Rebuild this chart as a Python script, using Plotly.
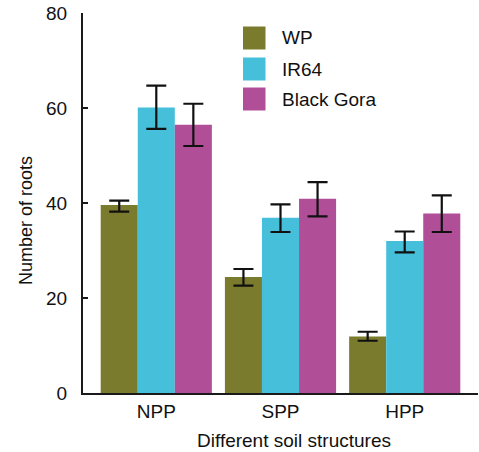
import plotly.graph_objects as go

categories = ["NPP", "SPP", "HPP"]
series_names = ["WP", "IR64", "Black Gora"]
colors = ["#7b7b2e", "#45bfda", "#b04e97"]

wp_vals = [39.6, 24.4, 11.9]
wp_err_plus = [0.9, 1.7, 1.0]
wp_err_minus = [1.4, 1.8, 0.9]

ir64_vals = [60.1, 36.9, 32.0]
ir64_err_plus = [4.6, 2.8, 2.0]
ir64_err_minus = [4.5, 3.0, 2.4]

bg_vals = [56.5, 40.9, 37.8]
bg_err_plus = [4.4, 3.5, 3.8]
bg_err_minus = [4.5, 3.7, 3.9]

y_ticks = [0, 20, 40, 60, 80]

values = [wp_vals, ir64_vals, bg_vals]
plus = [wp_err_plus, ir64_err_plus, bg_err_plus]
minus = [wp_err_minus, ir64_err_minus, bg_err_minus]

FONT = "Liberation Sans, Arial, sans-serif"

fig = go.Figure()
for name, col, v, p, m in zip(series_names, colors, values, plus, minus):
    fig.add_trace(go.Bar(
        x=categories, y=v, name=name, marker_color=col, marker_line_width=0,
        showlegend=False,
        error_y=dict(type="data", symmetric=False, array=p, arrayminus=m,
                     color="#111111", thickness=2.2, width=10),
    ))

# custom legend with large squares
L, R, T, B = 83, 478, 13, 393
W, H = R - L, B - T
def px(x):
    return (x - L) / W
def py(y):
    return (B - y) / H

row_centers = [38, 69, 99]
for name, col, yc in zip(series_names, colors, row_centers):
    fig.add_shape(type="rect", xref="paper", yref="paper",
                  x0=px(243), x1=px(265.5), y0=py(yc + 11.5), y1=py(yc - 11.5),
                  fillcolor=col, line=dict(width=0))
    fig.add_annotation(xref="paper", yref="paper", x=px(280), y=py(yc),
                       text=name, showarrow=False, xanchor="left", yanchor="middle",
                       font=dict(family=FONT, size=19, color="#111111"))

fig.add_annotation(xref="paper", yref="paper", x=px(26), y=py(221),
                   text="Number of roots", textangle=-90, showarrow=False,
                   xanchor="center", yanchor="middle",
                   font=dict(family=FONT, size=18, color="#111111"))
fig.add_annotation(xref="paper", yref="paper", x=px(294), y=py(440),
                   text="Different soil structures", showarrow=False,
                   xanchor="center", yanchor="middle",
                   font=dict(family=FONT, size=19, color="#111111"))

fig.update_layout(
    width=479, height=452,
    margin=dict(l=L, r=479 - R, t=T, b=452 - B, pad=0),
    paper_bgcolor="white", plot_bgcolor="white",
    barmode="group", bargap=0.105, bargroupgap=0,
    font=dict(family=FONT, size=19, color="#111111"),
    xaxis=dict(range=[-0.59, 2.59], showline=True, linecolor="#1a1a1a", linewidth=2,
               ticks="", showgrid=False, zeroline=False,
               tickfont=dict(size=19)),
    yaxis=dict(range=[0, 80], tickvals=y_ticks, showline=True, linecolor="#1a1a1a",
               linewidth=2, ticks="inside", ticklen=5, tickwidth=1.5, tickcolor="#1a1a1a",
               showgrid=False, zeroline=False, ticklabelstandoff=10,
               tickfont=dict(size=19)),
)

fig.write_html("out.html")
